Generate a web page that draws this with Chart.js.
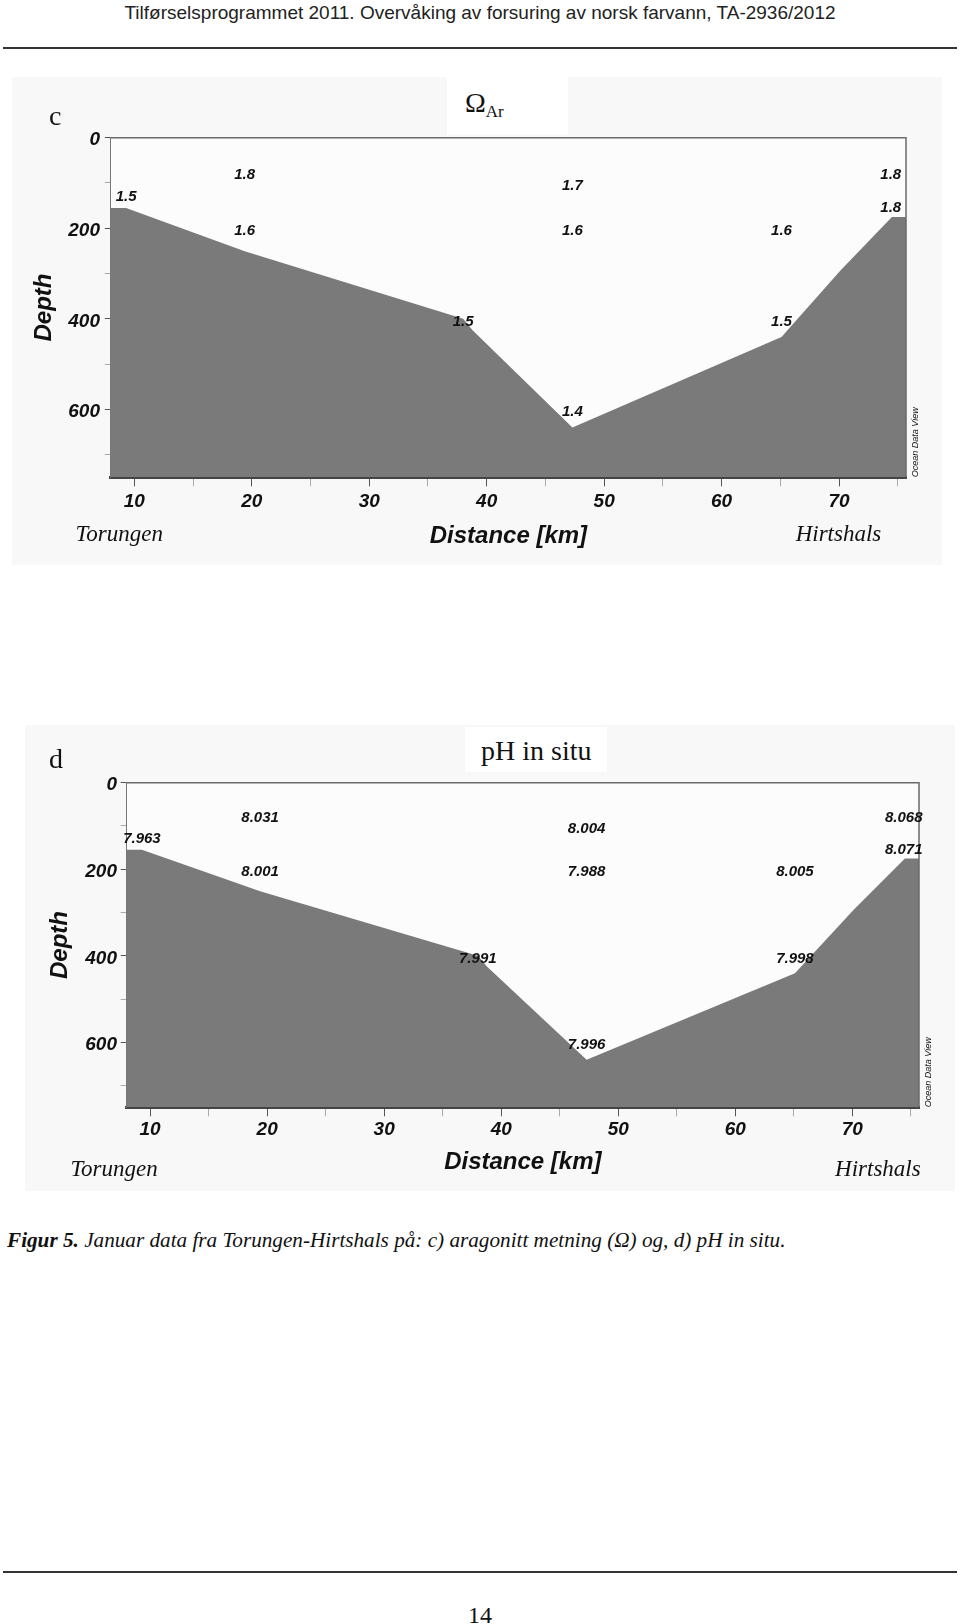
<!DOCTYPE html>
<html>
<head>
<meta charset="utf-8">
<script src="https://cdn.jsdelivr.net/npm/chart.js@4.4.1/dist/chart.umd.min.js"></script>
<style>
  body { margin: 0; width: 960px; height: 1624px; position: relative; background: #fff; overflow: hidden; }
  .abs { position: absolute; }
  .rule { position: absolute; left: 3px; width: 954px; height: 2px; background: #333; }
  .panel { position: absolute; background: #f8f8f8; }
  .serif { font-family: "Liberation Serif", "Times New Roman", serif; color: #111; }
  .tbox { position: absolute; background: #fff; z-index: 2; }
  .tag { position: absolute; z-index: 2; font-size: 28px; line-height: 28px; }
</style>
</head>
<body>

<div class="abs" style="left:0;top:3px;width:960px;text-align:center;font:19px/19px Arial,'Liberation Sans',sans-serif;color:#222">Tilførselsprogrammet 2011. Overvåking av forsuring av norsk farvann, TA-2936/2012</div>
<div class="rule" style="top:47px"></div>

<!-- panel c -->
<div class="panel" style="left:12px;top:77px;width:930px;height:488px">
  <canvas id="chartC" width="930" height="488" style="width:930px;height:488px"></canvas>
</div>
<div class="tag serif" style="left:49px;top:102px">c</div>
<div class="tbox serif" style="left:447px;top:74px;width:121px;height:61px">
  <span class="abs" style="left:18px;top:15px;font-size:28px;line-height:28px">Ω<span style="font-size:17px;position:relative;top:5px">Ar</span></span>
</div>

<!-- panel d -->
<div class="panel" style="left:25px;top:725px;width:930px;height:466px">
  <canvas id="chartD" width="930" height="466" style="width:930px;height:466px"></canvas>
</div>
<div class="tag serif" style="left:49px;top:745px">d</div>
<div class="tbox serif" style="left:465px;top:727px;width:142px;height:45px">
  <span class="abs" style="left:16px;top:10px;font-size:28px;line-height:28px;white-space:nowrap">pH in situ</span>
</div>

<div class="abs serif" style="left:7px;top:1230px;font-size:21.2px;line-height:21px;font-style:italic;white-space:nowrap"><b>Figur 5.</b> Januar data fra Torungen-Hirtshals på: c) aragonitt metning (Ω) og, d) pH in situ.</div>

<div class="rule" style="top:1571px"></div>
<div class="abs serif" style="left:0;top:1603px;width:960px;text-align:center;font-size:24px;line-height:24px">14</div>

<script>
// ===== data =====
// bottom topography along the section (distance km / depth m)
const bottomKm    = [8, 9.3, 19.4, 38.0, 38.8, 47.3, 65.1, 70.1, 74.5, 75.7];
const bottomDepth = [155, 155, 251, 400, 425, 640, 440, 294, 175, 175];

// sample positions (same stations for both panels)
const sampleKm    = [9.3, 19.4, 19.4, 38.0, 47.3, 47.3, 47.3, 65.1, 65.1, 74.4, 74.4];
const sampleDepth = [128, 79, 204, 403, 103, 204, 603, 204, 403, 79, 153];

const omegaText = ['1.5', '1.8', '1.6', '1.5', '1.7', '1.6', '1.4', '1.6', '1.5', '1.8', '1.8'];
const phText    = ['7.963', '8.031', '8.001', '7.991', '8.004', '7.988', '7.996', '8.005', '7.998', '8.068', '8.071'];

const xTicks      = [10, 15, 20, 25, 30, 35, 40, 45, 50, 55, 60, 65, 70, 75];
const xTickLabels = [10, 20, 30, 40, 50, 60, 70];
const yTicks      = [0, 100, 200, 300, 400, 500, 600, 700];
const yTickLabels = [0, 200, 400, 600];

const kmMin = 8, kmMax = 75.7, depthMax = 750;
const startName = 'Torungen', endName = 'Hirtshals';

// ===== utils =====
const SANS = 'Arial, "Liberation Sans", sans-serif';
const SERIF = '"Liberation Serif", "Times New Roman", serif';
const boldIt = size => ({ family: SANS, size, style: 'italic', weight: 'bold' });

const sectionDecor = {
  id: 'sectionDecor',
  beforeDraw(chart) {
    const { ctx, chartArea: a } = chart;
    ctx.save();
    ctx.fillStyle = '#fcfcfc';
    ctx.fillRect(a.left, a.top, a.right - a.left, a.bottom - a.top);
    ctx.restore();
  },
  afterDraw(chart, args, o) {
    const { ctx, chartArea: a, scales: { x, y } } = chart;
    ctx.save();
    // frame top + right
    ctx.strokeStyle = '#6a6a6a'; ctx.lineWidth = 1.5;
    ctx.beginPath();
    ctx.moveTo(a.left, a.top); ctx.lineTo(a.right, a.top); ctx.lineTo(a.right, a.bottom);
    ctx.stroke();

    // value labels at sample points (digits centred on the point)
    ctx.font = 'italic bold 15px ' + SANS;
    ctx.fillStyle = '#111'; ctx.textAlign = 'center'; ctx.textBaseline = 'alphabetic';
    o.text.forEach((t, i) => {
      ctx.fillText(t, x.getPixelForValue(sampleKm[i]), y.getPixelForValue(sampleDepth[i]) + 5.4);
    });

    // section end names
    ctx.font = 'italic 23px ' + SERIF;
    ctx.textAlign = 'left'; ctx.fillText(startName, o.startX, o.nameY);
    ctx.textAlign = 'right'; ctx.fillText(endName, o.endX, o.nameY);

    // ODV stamp
    ctx.translate(a.right + 9, a.bottom - 35);
    ctx.rotate(-Math.PI / 2);
    ctx.font = 'italic 9px ' + SANS;
    ctx.textAlign = 'center'; ctx.textBaseline = 'middle';
    ctx.fillText('Ocean Data View', 0, 0);
    ctx.restore();
  }
};

function sectionChart(id, text, box) {
  return new Chart(document.getElementById(id), {
    type: 'line',
    data: {
      datasets: [{
        data: bottomKm.map((k, i) => ({ x: k, y: bottomDepth[i] })),
        fill: { value: depthMax },
        backgroundColor: '#7a7a7a',
        borderColor: '#7a7a7a',
        borderWidth: 0,
        pointRadius: 0,
        tension: 0
      }]
    },
    options: {
      responsive: false,
      animation: false,
      events: [],
      layout: { padding: { left: 0, top: box.top, right: box.right, bottom: 0 } },
      plugins: {
        legend: { display: false },
        tooltip: { enabled: false },
        sectionDecor: { text, startX: box.startX, endX: box.endX, nameY: box.nameY }
      },
      scales: {
        x: {
          type: 'linear', min: kmMin, max: kmMax,
          afterBuildTicks: s => { s.ticks = xTicks.map(v => ({ value: v })); },
          afterFit: s => { s.height = box.xH; },
          ticks: {
            autoSkip: false, maxRotation: 0, padding: box.xPad,
            font: boldIt(19), color: '#111',
            callback: v => xTickLabels.includes(v) ? String(v) : ''
          },
          grid: {
            drawOnChartArea: false, tickLength: 9,
            color: c => (c.tick && xTickLabels.includes(c.tick.value)) ? '#555' : '#aaa'
          },
          border: { color: '#444', width: 3 },
          title: { display: true, text: 'Distance [km]', font: boldIt(24), color: '#111', padding: { bottom: box.xTitlePad, top: 0 } }
        },
        y: {
          type: 'linear', reverse: true, min: 0, max: depthMax,
          afterBuildTicks: s => { s.ticks = yTicks.map(v => ({ value: v })); },
          afterFit: s => { s.width = box.yW; },
          ticks: {
            autoSkip: false, padding: box.yPad, labelOffset: 2.5,
            font: boldIt(19), color: '#111',
            callback: v => yTickLabels.includes(v) ? String(v) : ''
          },
          grid: {
            drawOnChartArea: false, tickLength: 6,
            color: c => (c.tick && yTickLabels.includes(c.tick.value)) ? '#555' : '#aaa'
          },
          border: { color: '#777', width: 1 },
          title: { display: true, text: 'Depth', font: boldIt(24), color: '#111', padding: { top: box.yTitlePad, bottom: 0 } }
        }
      }
    },
    plugins: [sectionDecor]
  });
}

// ===== init =====
sectionChart('chartC', omegaText, {
  top: 60.7, right: 36, yW: 98.8, xH: 87.7,
  yPad: 4.8, xPad: 3.8, yTitlePad: 17.6, xTitlePad: 14.3,
  startX: 63.6, endX: 869.3, nameY: 464
});
sectionChart('chartD', phText, {
  top: 57.7, right: 36, yW: 101.7, xH: 83.7,
  yPad: 3.7, xPad: 2.3, yTitlePad: 20.6, xTitlePad: 13.9,
  startX: 45.4, endX: 895.7, nameY: 450.7
});
</script>
</body>
</html>
